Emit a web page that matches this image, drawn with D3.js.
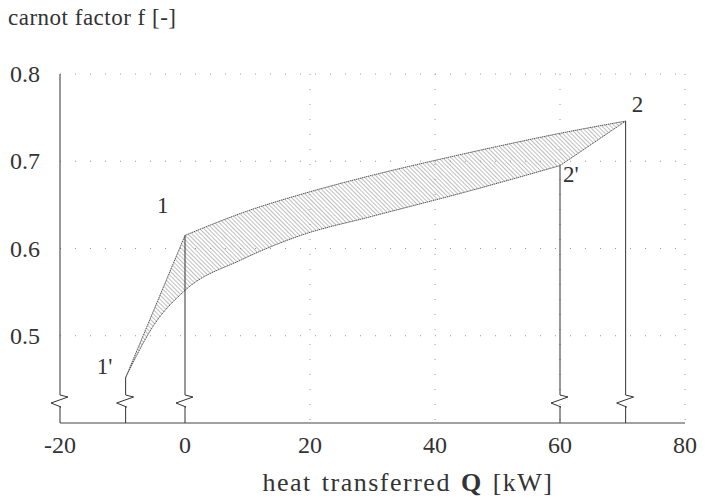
<!DOCTYPE html>
<html>
<head>
    <title>Carnot factor vs heat transferred</title>
    <script src="https://d3js.org/d3.v7.min.js"></script>
    <style>
        body {
            margin: 0;
            background: #fff;
        }
    </style>
</head>
<body>
    <div id="vis-container"></div>

    <script>
        const width = 706;
        const height = 501;

        // hot stream (upper), 1' -> 1 -> 2
        const upperQ = [-9.5, 0, 10, 20, 30, 40, 50, 60, 70.5];
        const upperF = [0.452, 0.615, 0.643, 0.665, 0.684, 0.701, 0.717, 0.732, 0.746];
        // cold stream (lower), 1' -> 2' -> 2
        const lowerQ = [-9.5, -5, 0, 9, 18.5, 30, 45, 60, 70.5];
        const lowerF = [0.452, 0.512, 0.552, 0.587, 0.615, 0.637, 0.665, 0.695, 0.746];

        const xTicks = [-20, 0, 20, 40, 60, 80];
        const yTicks = [0.5, 0.6, 0.7, 0.8];
        const gridX = [20, 40, 60, 80];
        const gridY = [0.5, 0.6, 0.7, 0.8];

        // vertical drop lines (with axis break) and point labels
        const dropQ = [-20, -9.5, 0, 60, 70.5];
        const dropF = [0.8, 0.452, 0.615, 0.695, 0.746];
        const pointNames = ["1'", "1", "2'", "2"];
        const pointQ = [-9.5, 0, 60, 70.5];
        const pointF = [0.452, 0.615, 0.695, 0.746];

        const x = d3.scaleLinear().domain([-20, 80]).range([60, 685]);
        const y = d3.scaleLinear().domain([0.4, 0.8]).range([423, 74]);

        const svg = d3.select('#vis-container')
            .append('svg')
            .attr('width', width)
            .attr('height', height);

        // serif text helper
        const label = (sel, size, spacing) => sel
            .style('font-family', '"Liberation Serif", "DejaVu Serif", serif')
            .style('font-size', size + 'px')
            .style('letter-spacing', (spacing || 0) + 'px')
            .style('fill', '#333');

        const defs = svg.append('defs');
        const pat = defs.append('pattern')
            .attr('id', 'hatch')
            .attr('patternUnits', 'userSpaceOnUse')
            .attr('width', 3)
            .attr('height', 3)
            .attr('patternTransform', 'rotate(-45)');
        pat.append('line')
            .attr('x1', 0).attr('y1', 0)
            .attr('x2', 0).attr('y2', 3)
            .attr('stroke', '#808080')
            .attr('stroke-width', 1);

        // dotted grid
        svg.append('g')
            .selectAll('line')
            .data(gridX)
            .join('line')
            .attr('x1', d => x(d)).attr('x2', d => x(d))
            .attr('y1', y(0.8)).attr('y2', y(0.4))
            .attr('stroke', '#999')
            .attr('stroke-dasharray', '1 14');
        svg.append('g')
            .selectAll('line')
            .data(gridY)
            .join('line')
            .attr('x1', x(-20)).attr('x2', x(80))
            .attr('y1', d => y(d)).attr('y2', d => y(d))
            .attr('stroke', '#999')
            .attr('stroke-dasharray', '1 14');

        const upper = upperQ.map((q, i) => [x(q), y(upperF[i])]);
        const lower = lowerQ.map((q, i) => [x(q), y(lowerF[i])]);
        const smooth = d3.line().curve(d3.curveMonotoneX);

        const upperD = `M${upper[0]}` + smooth(upper.slice(1)).replace(/^M/, 'L');
        const lowerD = smooth(lower.slice(0, -1)) + `L${lower[lower.length - 1]}`;
        const fillD = upperD + smooth(lower.slice(0, -1).reverse()).replace(/^M/, 'L') + 'Z';

        svg.append('path')
            .attr('d', fillD)
            .attr('fill', 'url(#hatch)')
            .attr('stroke', 'none');
        [upperD, lowerD].forEach(d => {
            svg.append('path')
                .attr('d', d)
                .attr('fill', 'none')
                .attr('stroke', '#444')
                .attr('stroke-width', 0.9)
                .attr('stroke-dasharray', '1.5 0.6');
        });

        // x axis line
        svg.append('line')
            .attr('x1', x(-20)).attr('x2', x(80))
            .attr('y1', y(0.4)).attr('y2', y(0.4))
            .attr('stroke', '#444')
            .attr('stroke-width', 1);

        // drop lines with zigzag break
        const yb = 395;
        svg.append('g')
            .selectAll('path')
            .data(dropQ.map((q, i) => [q, dropF[i]]))
            .join('path')
            .attr('d', d => {
                const px = x(d[0]);
                return `M${px},${y(d[1])}V${yb}L${px + 8},${yb + 2}L${px - 9},${yb + 8}` +
                    `L${px + 1},${yb + 12}L${px},${yb + 12}V${y(0.4)}`;
            })
            .attr('fill', 'none')
            .attr('stroke', '#333')
            .attr('stroke-width', 1);

        // tick labels
        svg.append('g')
            .selectAll('text')
            .data(xTicks)
            .join('text')
            .call(label, 24)
            .attr('x', d => x(d))
            .attr('y', 453)
            .attr('text-anchor', 'middle')
            .text(d => d);
        svg.append('g')
            .selectAll('text')
            .data(yTicks)
            .join('text')
            .call(label, 24)
            .attr('x', 40)
            .attr('y', d => y(d) + 8)
            .attr('text-anchor', 'end')
            .text(d => d.toFixed(1));

        // point labels
        const labelDx = [-29, -28, 3, 6];
        const labelDy = [-4, -22, 16, -9];
        svg.append('g')
            .selectAll('text')
            .data(pointNames)
            .join('text')
            .call(label, 23)
            .attr('x', (d, i) => x(pointQ[i]) + labelDx[i])
            .attr('y', (d, i) => y(pointF[i]) + labelDy[i])
            .text(d => d);

        // titles
        svg.append('text')
            .call(label, 23, 0.5)
            .attr('x', 8)
            .attr('y', 25)
            .text('carnot factor f [-]');
        const xt = svg.append('text')
            .call(label, 26, 1.5)
            .style('word-spacing', '2px')
            .attr('x', 408)
            .attr('y', 491)
            .attr('text-anchor', 'middle');
        xt.append('tspan').text('heat transferred ');
        xt.append('tspan').style('font-weight', 'bold').text('Q');
        xt.append('tspan').text(' [kW]');
    </script>
</body>
</html>
